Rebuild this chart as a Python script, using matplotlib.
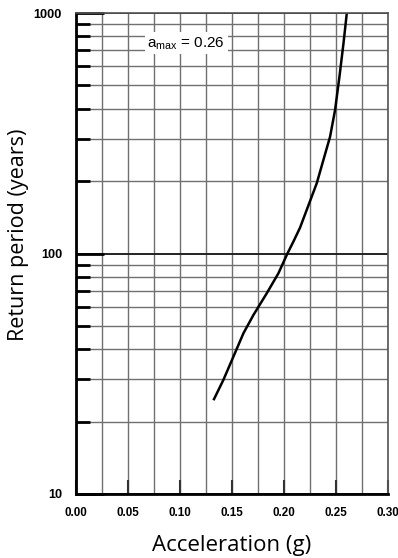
import matplotlib.pyplot as plt
import numpy as np
from matplotlib.ticker import FixedLocator, LogLocator, NullFormatter

# 곡선 값
accel = [0.1327, 0.1417, 0.1513, 0.161, 0.1706, 0.1834, 0.1946, 0.2033, 0.209,
         0.2154, 0.2219, 0.2315, 0.2379, 0.2443, 0.2491, 0.2533, 0.2572, 0.2604]
period = [24.8, 29.8, 37.2, 46.6, 55.5, 68.3, 82.7, 100, 112,
          128, 152, 196, 245, 306, 395, 543, 748, 1000]

x_ticks = [0.00, 0.05, 0.10, 0.15, 0.20, 0.25, 0.30]
y_ticks = [10, 100, 1000]
label_text = r'$\mathregular{a_{max}}$ = 0.26'

fig = plt.figure(figsize=(3.98, 5.58), dpi=100)
ax = fig.add_axes([76 / 398, 1 - 494 / 558, 312 / 398, 481 / 558])

ax.plot(accel, period, color='black', lw=1.8)

ax.set_yscale('log')
ax.set_xlim(0, 0.3)
ax.set_ylim(10, 1000)

# 격자
ax.xaxis.set_minor_locator(FixedLocator(np.arange(0, 0.301, 0.025)))
ax.yaxis.set_minor_locator(LogLocator(base=10, subs=np.arange(2, 10)))
ax.yaxis.set_minor_formatter(NullFormatter())
ax.grid(True, which='both', axis='x', color='#707070', lw=1.0)
ax.grid(True, which='minor', axis='y', color='#707070', lw=1.0)
ax.grid(True, which='major', axis='y', color='#222222', lw=1.4)
ax.set_axisbelow(True)

ax.set_xticks(x_ticks)
ax.set_xticklabels([f'{v:.2f}' for v in x_ticks])
ax.set_yticks(y_ticks)
ax.set_yticklabels([str(v) for v in y_ticks])

ax.tick_params(axis='y', which='major', direction='in', length=20, width=2, color='black', pad=10)
ax.tick_params(axis='y', which='minor', direction='in', length=10, width=2, color='black')
ax.tick_params(axis='x', which='major', direction='in', length=10, width=1.5, color='#333333', pad=9)
ax.tick_params(axis='x', which='minor', length=0)
for lab in ax.get_xticklabels():
    lab.set_fontweight('bold')
    lab.set_fontsize(8.4)
    lab.set_family('Liberation Sans')
for lab in ax.get_yticklabels():
    lab.set_fontweight('bold')
    lab.set_fontsize(9.2)
    lab.set_family('Liberation Sans')

for s in ['left', 'bottom']:
    ax.spines[s].set_linewidth(2)
    ax.spines[s].set_color('black')
for s in ['top', 'right']:
    ax.spines[s].set_linewidth(1.2)
    ax.spines[s].set_color('#555555')

ax.text(0.353, 0.937, label_text, transform=ax.transAxes, ha='center', va='center',
        fontsize=11, family='Liberation Sans',
        bbox=dict(facecolor='white', edgecolor='none', pad=2))

ax.set_xlabel('Acceleration (g)', fontsize=16, family='Open Sans', labelpad=12)
ax.set_ylabel('Return period (years)', fontsize=15.5, family='Open Sans')
ax.yaxis.set_label_coords(-0.152, 0.538)

fig.savefig('out.png', dpi=100)
